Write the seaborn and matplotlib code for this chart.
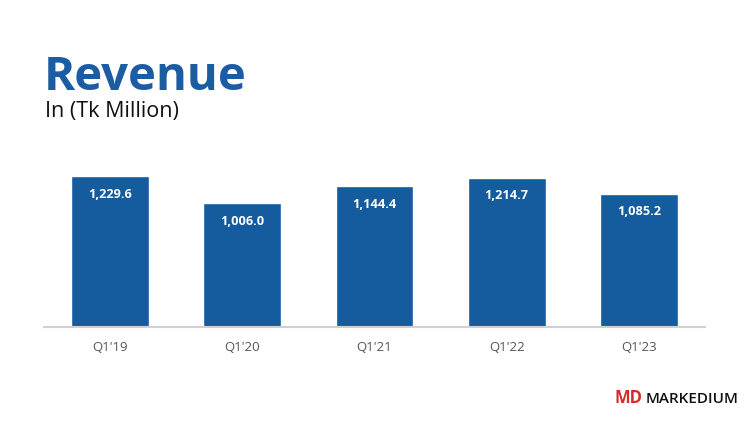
import matplotlib
matplotlib.use("Agg")
import matplotlib.pyplot as plt
import seaborn as sns
import pandas as pd

quarters = ["Q1'19", "Q1'20", "Q1'21", "Q1'22", "Q1'23"]
revenue = [1229.6, 1006.0, 1144.4, 1214.7, 1085.2]

bar_color = "#155C9E"
title_color = "#1B5CA3"

sns.set_theme(style="white")
plt.rcParams['font.family'] = ['Open Sans', 'DejaVu Sans']

df = pd.DataFrame({"quarter": quarters, "revenue": revenue})

fig = plt.figure(figsize=(7.5, 4.3), dpi=100)
ax = fig.add_axes([44 / 750, 103 / 430, 661 / 750, 167 / 430])

sns.barplot(data=df, x="quarter", y="revenue", color=bar_color, width=0.59,
            saturation=1, ax=ax)

ax.set_xlim(-0.5, 4.5)
ax.set_ylim(0, 1360)
ax.set(xlabel='', ylabel='')
ax.set_yticks([])
for s in ["top", "right", "left"]:
    ax.spines[s].set_visible(False)
ax.spines["bottom"].set_color("#D0D0D0")
ax.spines["bottom"].set_linewidth(1.5)
ax.tick_params(axis='x', length=0, pad=10, labelsize=9.5, labelcolor="#555555")

for i, v in enumerate(revenue):
    ax.annotate("{:,.1f}".format(v), (i, v), textcoords="offset points", xytext=(0, -13),
                ha='center', va='center', color='white', fontsize=9.2, fontweight='bold')

fig.text(44 / 750, 1 - 90 / 430, "Revenue", color=title_color, fontsize=34,
         fontweight='bold', ha='left', va='baseline')
fig.text(45 / 750, 1 - 117 / 430, "In (Tk Million)", color="#111111", fontsize=15.5,
         ha='left', va='baseline')

fig.text(614 / 750, 1 - 403 / 430, "MD", color="#D42A2A", fontsize=12,
         fontweight='bold', ha='left', va='baseline')
fig.text(646 / 750, 1 - 403 / 430, "MARKEDIUM", color="#111111", fontsize=11,
         fontweight='semibold', ha='left', va='baseline')

fig.savefig("out.png", dpi=100, facecolor="white")
